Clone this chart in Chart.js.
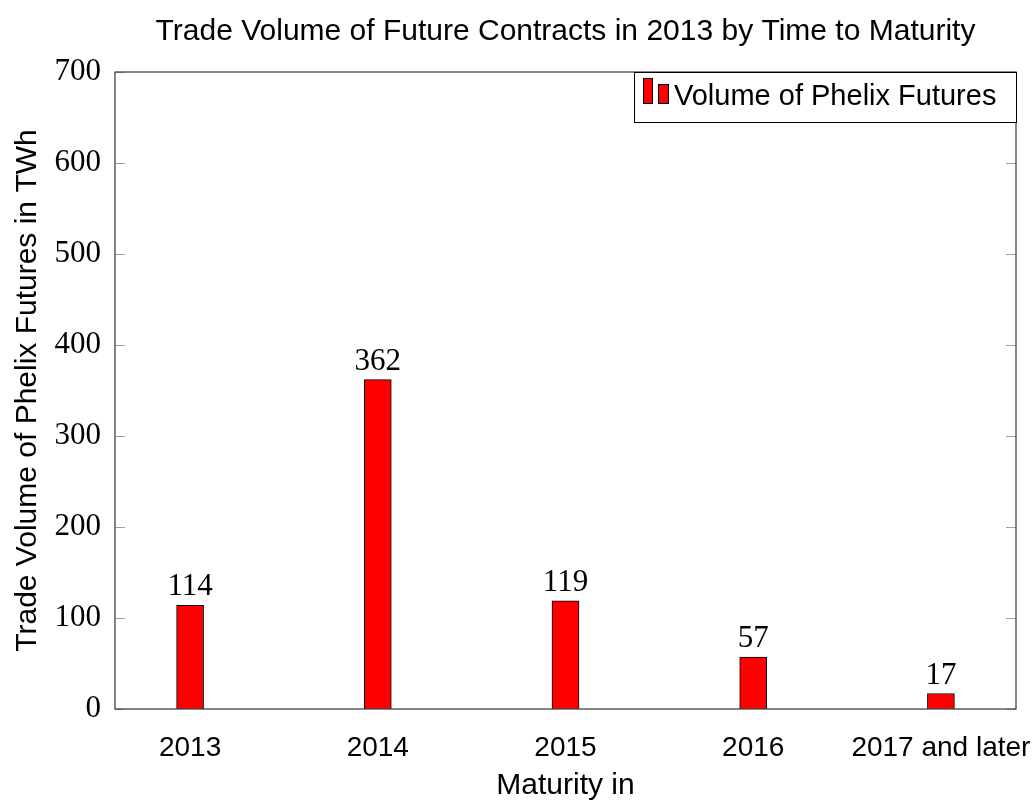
<!DOCTYPE html>
<html>
<head>
<meta charset="utf-8">
<script src="https://cdn.jsdelivr.net/npm/chart.js@4"></script>
<style>
  body { margin: 0; background: #fff; }
  canvas { display: block; }
</style>
</head>
<body>
<canvas id="canvas" width="1036" height="801"></canvas>
<script>
// data
const categories = ['2013', '2014', '2015', '2016', '2017 and later'];
const volumes = [114, 362, 119, 57, 17];
const yTicks = [0, 100, 200, 300, 400, 500, 600, 700];

const chartTitle = 'Trade Volume of Future Contracts in 2013 by Time to Maturity';
const xTitle = 'Maturity in';
const yTitle = 'Trade Volume of Phelix Futures in TWh';
const seriesName = 'Volume of Phelix Futures';

const sansFont = '"Liberation Sans", Arial, sans-serif';
const serifFont = '"Liberation Serif", "DejaVu Serif", serif';

// frame, inner tick marks, labels, legend
const decorPlugin = {
  id: 'decor',
  afterDraw(chart) {
    const ctx = chart.ctx;
    const a = chart.chartArea;
    const y = chart.scales.y;
    ctx.save();

    // tick marks inside on both sides
    ctx.strokeStyle = '#a0a0a0';
    ctx.lineWidth = 1;
    yTicks.forEach(function (t) {
      const py = Math.round(y.getPixelForValue(t)) + 0.5;
      ctx.beginPath();
      ctx.moveTo(a.left, py); ctx.lineTo(a.left + 10, py);
      ctx.moveTo(a.right, py); ctx.lineTo(a.right - 10, py);
      ctx.stroke();
    });

    // frame
    ctx.strokeStyle = '#444';
    ctx.lineWidth = 1.3;
    ctx.strokeRect(a.left, a.top, a.right - a.left, a.bottom - a.top);

    // values above bars
    ctx.fillStyle = '#000';
    ctx.font = '31px ' + serifFont;
    ctx.textAlign = 'center';
    ctx.textBaseline = 'alphabetic';
    chart.getDatasetMeta(0).data.forEach(function (bar, i) {
      ctx.fillText(String(volumes[i]), bar.x, bar.y - 10);
    });

    // title
    ctx.font = '30px ' + sansFont;
    ctx.textBaseline = 'middle';
    ctx.fillText(chartTitle, (a.left + a.right) / 2, 32);

    // x axis title
    ctx.fillText(xTitle, (a.left + a.right) / 2, 786);

    // y axis title
    ctx.save();
    ctx.translate(28, (a.top + a.bottom) / 2);
    ctx.rotate(-Math.PI / 2);
    ctx.font = '30px ' + sansFont;
    ctx.fillText(yTitle, 0, 0);
    ctx.restore();

    // legend
    const lx = 634, ly = a.top, lw = a.right - 634, lh = 50;
    ctx.fillStyle = '#fff';
    ctx.fillRect(lx, ly, lw, lh);
    ctx.strokeStyle = '#000';
    ctx.lineWidth = 1;
    ctx.strokeRect(lx + 0.5, ly + 0.5, lw, lh);
    ctx.fillStyle = '#ff0000';
    ctx.strokeStyle = '#000';
    ctx.fillRect(643, ly + 6, 9, 25); ctx.strokeRect(643.5, ly + 6.5, 9, 25);
    ctx.fillRect(658, ly + 12, 10, 19); ctx.strokeRect(658.5, ly + 12.5, 10, 19);
    ctx.fillStyle = '#000';
    ctx.textAlign = 'left';
    ctx.font = '29px ' + sansFont;
    ctx.fillText(seriesName, 674, ly + 25);

    ctx.restore();
  }
};

const data = {
  datasets: [
    {
      label: seriesName,
      data: categories.map(function (c, i) { return { x: i, y: volumes[i] }; }),
      backgroundColor: '#ff0000',
      borderColor: '#000',
      borderWidth: 1,
      barThickness: 27,
    }
  ]
};

const config = {
  type: 'bar',
  data: data,
  options: {
    responsive: false,
    animation: false,
    layout: { padding: { top: 72, right: 20, left: 0, bottom: 0 } },
    plugins: {
      legend: { display: false },
      tooltip: { enabled: false },
    },
    scales: {
      x: {
        type: 'linear',
        min: -0.4,
        max: 4.4,
        offset: false,
        grid: { display: false },
        border: { display: false },
        afterBuildTicks: function (scale) {
          scale.ticks = categories.map(function (c, i) { return { value: i }; });
        },
        afterFit: function (scale) {
          scale.height = 92;
          // the last label may stick out past the frame, like the original
          scale.paddingLeft = 0;
          scale.paddingRight = 0;
        },
        ticks: {
          autoSkip: false,
          maxRotation: 0,
          padding: 14,
          color: '#000',
          font: { family: sansFont, size: 28 },
          callback: function (v) { return categories[v]; }
        }
      },
      y: {
        min: 0,
        max: 700,
        grid: { display: false },
        border: { display: false },
        afterBuildTicks: function (scale) {
          scale.ticks = yTicks.map(function (t) { return { value: t }; });
        },
        afterFit: function (scale) { scale.width = 115; },
        ticks: {
          padding: 6,
          color: '#000',
          font: { family: serifFont, size: 31 }
        }
      }
    }
  },
  plugins: [decorPlugin]
};

const canvas = document.getElementById('canvas');
const chart = new Chart(canvas, config);
</script>
</body>
</html>
